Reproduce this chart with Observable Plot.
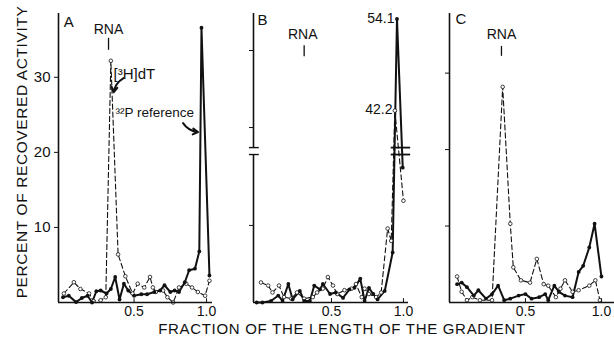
<!DOCTYPE html>
<html><head><meta charset="utf-8">
<script src="https://cdn.jsdelivr.net/npm/d3@7"></script>
<script src="https://cdn.jsdelivr.net/npm/@observablehq/plot@0.6"></script>
<style>
body{margin:0;background:#fff;}
#wrap{position:relative;width:614px;height:339px;overflow:hidden;background:#fff;font-family:"Liberation Sans",Arial,sans-serif;color:#111;}
#wrap svg{position:absolute;left:0;top:0;}
#xt{position:absolute;left:0;width:684px;top:323px;line-height:12px;text-align:center;font-size:15px;letter-spacing:0.7px;white-space:nowrap;}
#yt{position:absolute;left:22px;top:152px;line-height:14px;transform:translate(-50%,-50%) rotate(-90deg);font-size:15.5px;letter-spacing:0.6px;white-space:nowrap;}
</style></head><body>
<div id="wrap"><div id="xt">FRACTION OF THE LENGTH OF THE GRADIENT</div><div id="yt">PERCENT OF RECOVERED ACTIVITY</div></div>
<script>
// ---- Panel A ----
const aSolidX = [0.01,0.05,0.10,0.14,0.18,0.21,0.24,0.27,0.31,0.34,0.37,0.40,0.43,0.46,0.50,0.55,0.59,0.64,0.68,0.71,0.75,0.78,0.81,0.85,0.88,0.92,0.95,0.965,1.02];
const aSolidY = [0.7,0.9,0.05,0.6,0.9,0.0,1.5,1.6,1.2,1.8,3.4,0.4,2.5,1.6,0.9,1.1,1.1,1.4,1.6,2.3,1.4,1.6,1.4,2.7,4.3,4.5,6.8,36.6,3.6];
const aDashX = [0.016,0.085,0.13,0.19,0.22,0.27,0.305,0.34,0.39,0.44,0.49,0.525,0.57,0.61,0.63,0.65,0.70,0.73,0.77,0.81,0.86,0.90,0.94,0.99,1.02];
const aDashY = [1.2,2.7,1.8,1.2,0.2,0.3,0.7,32.2,6.4,3.5,1.2,2.5,2.0,3.4,2.0,1.4,1.6,0.7,0.0,2.0,2.5,2.0,1.4,0.9,2.9];
// ---- Panel B ----
const bSolidX = [-0.02,0.02,0.08,0.13,0.16,0.20,0.23,0.28,0.31,0.35,0.38,0.42,0.44,0.49,0.53,0.58,0.625,0.66,0.70,0.73,0.76,0.79,0.82,0.87,0.925,0.955,0.995];
const bSolidY = [0,0,0.2,0.9,0.2,2.4,0.4,1.5,0.2,0.2,2.2,1.7,2.4,1.1,1.3,0.6,1.7,1.9,3.1,0.2,1.9,1.1,0.4,1.5,6.5,54.1,17.5];
const bDashX = [0.01,0.06,0.09,0.135,0.17,0.22,0.26,0.31,0.37,0.40,0.44,0.475,0.51,0.54,0.59,0.64,0.67,0.71,0.73,0.76,0.81,0.845,0.89,0.915,0.94,1.0];
const bDashY = [2.6,2.2,1.3,2.2,0.7,0.5,1.3,0.5,0.7,1.3,1.8,3.3,2.2,1.1,1.6,1.8,2.4,0.7,1.8,1.1,0.7,1.3,9.6,8.0,42.2,13.2];
// ---- Panel C ----
const cSolidX = [0.05,0.08,0.115,0.16,0.19,0.24,0.28,0.32,0.36,0.40,0.455,0.50,0.54,0.59,0.63,0.65,0.69,0.72,0.76,0.81,0.85,0.88,0.92,0.955,1.0];
const cSolidY = [2.4,2.6,2.0,0.9,1.6,0.5,1.1,2.2,0.3,0.5,0.9,1.1,0.5,0.7,1.1,0.3,2.2,1.4,0.9,0.7,4.0,4.8,7.2,10.3,3.4];
const cDashX = [0.05,0.08,0.115,0.15,0.20,0.28,0.35,0.40,0.42,0.47,0.53,0.575,0.62,0.65,0.70,0.73,0.76,0.81,0.85,0.92,0.96,0.99];
const cDashY = [3.4,1.4,0.3,0.7,0.3,0.3,28.2,10.3,4.6,2.9,2.6,5.7,2.4,2.2,0.7,1.8,2.9,1.4,1.6,2.2,2.9,0.3];

const xTicks = [0.5, 1.0];
const aYTicks = [10, 20, 30];
const bYTicks = [10, 40, 50];
const cYTicks = [10, 20, 30];
const bBreaks = [19.2, 37.4];
const panelLetters = ["A", "B", "C"];
const peakLabels = [{x: 0.9375, y: 54.2, t: "54.1"}, {x: 0.924, y: 42.3, t: "42.2"}];
const aLabels = [{x: 0.359, y: 30.4, t: "[³H]dT", s: 15}, {x: 0.372, y: 25.3, t: "³²P reference", s: 13.5}];
const aArrows = [{x1: 0.428, y1: 29.9, x2: 0.359, y2: 28.0}, {x1: 0.838, y1: 23.9, x2: 0.941, y2: 22.7}];

// broken axis of panel B: compress 19.2..37.4 into a short gap
const bMap = d3.scaleLinear().domain([0, 19.2, 37.4, 54.8]).range([0, 19.2, 20.1, 37.5]);
const ident = v => v;

const W = 614, H = 339;
const font = "Liberation Sans, Arial, sans-serif";

function panel(o) {
  const m = o.ymap || ident;
  const rows = (xs, ys) => xs.map((x, i) => ({x, y: m(ys[i])}));
  const solid = rows(o.sx, o.sy), dash = rows(o.dx, o.dy);
  const x0 = o.xd[0];
  const yTop = o.ydTop;
  const marks = [
    Plot.line(dash, {x: "x", y: "y", stroke: "#111", strokeWidth: 1.1, strokeDasharray: "5,3"}),
    Plot.line(solid, {x: "x", y: "y", stroke: "#111", strokeWidth: 2}),
    Plot.dot(dash, {x: "x", y: "y", r: 1.8, fill: "white", stroke: "#111", strokeWidth: 0.8}),
    Plot.dot(solid, {x: "x", y: "y", r: 1.9, fill: "#111"}),
    Plot.ruleY([0], {stroke: "#111", strokeWidth: 1.6}),
    Plot.ruleX(xTicks, {y1: 0, y2: 0.5, stroke: "#111", strokeWidth: 1}),
    Plot.axisY(o.yTicks.map(m), {tickSize: 4, tickPadding: 4, label: null, fontSize: 15,
      tickFormat: o.yLabels ? d3.format("d") : () => ""}),
    Plot.axisX({ticks: xTicks, tickSize: 0, tickPadding: 4, label: null, fontSize: 14, tickFormat: d3.format(".1f")}),
    Plot.text([o.letter], {x: o.letterX, y: m(o.letterY), text: d => d, textAnchor: "start", fontSize: 15}),
    Plot.text(["RNA"], {x: o.rnaX, y: m(o.rnaY), text: d => d, fontSize: 14}),
    Plot.ruleX([o.rnaTickX], {y1: m(o.rnaT1), y2: m(o.rnaT2), stroke: "#111", strokeWidth: 1.3})
  ];
  if (o.breaks) {
    marks.push(Plot.ruleX([x0], {y1: 0, y2: m(o.breaks[0]), stroke: "#111", strokeWidth: 1.6}));
    marks.push(Plot.ruleX([x0], {y1: m(o.breaks[1]), y2: yTop, stroke: "#111", strokeWidth: 1.6}));
    marks.push(Plot.ruleY(o.breaks.map(m), {x1: x0 - 0.028, x2: x0 + 0.04, stroke: "#111", strokeWidth: 1.4}));
    marks.push(Plot.ruleY(o.breaks.map(m), {x1: 0.915, x2: 1.05, stroke: "#111", strokeWidth: 1.8}));
  } else {
    marks.push(Plot.ruleX([x0], {stroke: "#111", strokeWidth: 1.6}));
  }
  if (o.extra) marks.push(...o.extra(m));
  return Plot.plot({
    width: W, height: H,
    marginLeft: o.ml, marginRight: o.mr, marginTop: 13, marginBottom: 37,
    x: {domain: o.xd},
    y: {domain: [0, yTop]},
    style: {background: "transparent", fontFamily: font, color: "#111", overflow: "visible"},
    marks
  });
}

const wrap = document.getElementById("wrap");

wrap.appendChild(panel({
  ml: 58, mr: W - 212, xd: [-0.021, 1.041], ydTop: 38.5,
  sx: aSolidX, sy: aSolidY, dx: aDashX, dy: aDashY,
  yTicks: aYTicks, yLabels: true,
  letter: panelLetters[0], letterX: 0.015, letterY: 37.3,
  rnaX: 0.324, rnaY: 36.4, rnaTickX: 0.324, rnaT1: 35.2, rnaT2: 33.6,
  extra: m => [
    Plot.text(aLabels, {x: "x", y: d => m(d.y), text: "t", fontSize: d => d.s, textAnchor: "start"}),
    Plot.arrow(aArrows, {x1: "x1", y1: "y1", x2: "x2", y2: "y2", bend: -25, headLength: 5, strokeWidth: 2, stroke: "#111"})
  ]
}));

wrap.appendChild(panel({
  ml: 253, mr: W - 408, xd: [-0.042, 1.035], ydTop: 37.5, ymap: bMap,
  sx: bSolidX, sy: bSolidY, dx: bDashX, dy: bDashY,
  yTicks: bYTicks, yLabels: false, breaks: bBreaks,
  letter: panelLetters[1], letterX: -0.014, letterY: 53.9,
  rnaX: 0.30, rnaY: 52.1, rnaTickX: 0.31, rnaT1: 50.6, rnaT2: 49.2,
  extra: m => [
    Plot.text(peakLabels, {x: "x", y: d => m(d.y), text: "t", fontSize: 14, textAnchor: "end"})
  ]
}));

wrap.appendChild(panel({
  ml: 449, mr: 0, xd: [0, 1.086], ydTop: 37.8,
  sx: cSolidX, sy: cSolidY, dx: cDashX, dy: cDashY,
  yTicks: cYTicks, yLabels: false,
  letter: panelLetters[2], letterX: 0.04, letterY: 37.0,
  rnaX: 0.342, rnaY: 35.1, rnaTickX: 0.342, rnaT1: 33.5, rnaT2: 32.2
}));
</script>
</body></html>
